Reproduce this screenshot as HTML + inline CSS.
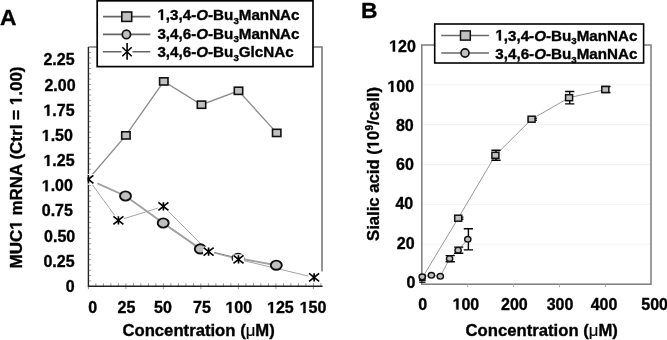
<!DOCTYPE html>
<html><head><meta charset="utf-8"><style>
html,body{margin:0;padding:0;background:#fff;}
body{width:667px;height:340px;overflow:hidden;}
svg{display:block;font-family:"Liberation Sans", sans-serif;font-weight:bold;filter:grayscale(1);}
text{stroke:#000;stroke-width:0.35px;}
.o1{fill-opacity:0;stroke-opacity:0;}
</style></head><body>
<svg width="667" height="340" viewBox="0 0 667 340">
<defs>
<clipPath id="clipA"><rect x="87.4" y="0" width="243.6" height="286.2"/></clipPath>
</defs>
<rect width="667" height="340" fill="#fff"/>

<text x="0.1" y="24.7" font-size="22.8">A</text>
<text x="361.1" y="17.9" font-size="22.8">B</text>
<path d="M88.4 47.0H322.0V271.5" fill="none" stroke="#7a7a7a" stroke-width="1.6"/>
<path d="M88.4 280.89h2.8M88.4 275.58h2.8M88.4 270.27h2.8M88.4 264.96h2.8M88.4 259.65h2.8M88.4 254.34h2.8M88.4 249.03h2.8M88.4 243.72h2.8M88.4 238.41h2.8M88.4 233.10h2.8M88.4 227.79h2.8M88.4 222.48h2.8M88.4 217.17h2.8M88.4 211.86h2.8M88.4 206.55h2.8M88.4 201.24h2.8M88.4 195.93h2.8M88.4 190.62h2.8M88.4 185.31h2.8M88.4 180.00h2.8M88.4 174.69h2.8M88.4 169.38h2.8M88.4 164.07h2.8M88.4 158.76h2.8M88.4 153.45h2.8M88.4 148.14h2.8M88.4 142.83h2.8M88.4 137.52h2.8M88.4 132.21h2.8M88.4 126.90h2.8M88.4 121.59h2.8M88.4 116.28h2.8M88.4 110.97h2.8M88.4 105.66h2.8M88.4 100.35h2.8M88.4 95.04h2.8M88.4 89.73h2.8M88.4 84.42h2.8M88.4 79.11h2.8M88.4 73.80h2.8M88.4 68.49h2.8M88.4 63.18h2.8M88.4 57.87h2.8M88.4 52.56h2.8M88.4 47.25h2.8" stroke="#aaa" stroke-width="1"/>
<path d="M95.90 283.2v3M103.40 283.2v3M110.90 283.2v3M118.40 283.2v3M125.90 283.2v6M133.40 283.2v3M140.90 283.2v3M148.40 283.2v3M155.90 283.2v3M163.40 283.2v6M170.90 283.2v3M178.40 283.2v3M185.90 283.2v3M193.40 283.2v3M200.90 283.2v6M208.40 283.2v3M215.90 283.2v3M223.40 283.2v3M230.90 283.2v3M238.40 283.2v6M245.90 283.2v3M253.40 283.2v3M260.90 283.2v3M268.40 283.2v3M275.90 283.2v6M283.40 283.2v3M290.90 283.2v3M298.40 283.2v3M305.90 283.2v3M313.40 283.2v6M320.90 283.2v3M88.4 286.2v3" stroke="#999" stroke-width="1"/>
<path d="M88.4 47.0V286.2H322.6" fill="none" stroke="#222" stroke-width="1.4"/>
<text x="74.6" y="291.8" font-size="16" text-anchor="end">0</text>
<text x="74.6" y="266.7" font-size="16" text-anchor="end">0.25</text>
<text x="75.2" y="241.5" font-size="16" text-anchor="end">0.50</text>
<text x="72.9" y="216.3" font-size="16" text-anchor="end">0.75</text>
<text x="72.9" y="191.2" font-size="16" text-anchor="end"><tspan class="o1">1</tspan>.00</text>
<text x="74.6" y="166.0" font-size="16" text-anchor="end"><tspan class="o1">1</tspan>.25</text>
<text x="72.9" y="140.9" font-size="16" text-anchor="end"><tspan class="o1">1</tspan>.50</text>
<text x="74.6" y="115.8" font-size="16" text-anchor="end"><tspan class="o1">1</tspan>.75</text>
<text x="75.6" y="90.6" font-size="16" text-anchor="end">2.00</text>
<text x="74.6" y="65.4" font-size="16" text-anchor="end">2.25</text>
<text x="92.6" y="313" font-size="16" text-anchor="middle">0</text>
<text x="126.4" y="313" font-size="16" text-anchor="middle">25</text>
<text x="163.0" y="313" font-size="16" text-anchor="middle">50</text>
<text x="202.0" y="313" font-size="16" text-anchor="middle">75</text>
<text x="238.8" y="313" font-size="16" text-anchor="middle"><tspan class="o1">1</tspan>00</text>
<text x="280.4" y="313" font-size="16" text-anchor="middle"><tspan class="o1">1</tspan>25</text>
<text x="313.0" y="313" font-size="16" text-anchor="middle"><tspan class="o1">1</tspan>50</text>
<text x="198.6" y="336.3" font-size="16.7" text-anchor="middle">Concentration (<tspan font-weight="normal" style="stroke-width:0.2px">μ</tspan>M)</text>
<text transform="translate(21.7 167.5) rotate(-90)" font-size="17" text-anchor="middle">MUC<tspan class="o1">1</tspan> mRNA (Ctrl = <tspan class="o1">1</tspan>.00)</text>
<g clip-path="url(#clipA)">
<path d="M88.4 179.3L125.9 135.4L163.8 81.4L201.5 104.7L238.5 90.8L276.7 132.9" fill="none" stroke="#8c8c8c" stroke-width="1.35"/>
<path d="M88.4 179.3L125.5 196.0L163.2 223.0L200.3 248.9M238.0 258.2L276.3 265.2" fill="none" stroke="#a0a0a0" stroke-width="1.9"/>
<path d="M200.3 248.9L238.0 258.2" fill="none" stroke="#777" stroke-width="1"/>
<path d="M88.4 179.3L118.4 220.4L163.4 206.4L208.6 251.6L238.5 259.4L314.1 277.4" fill="none" stroke="#9a9a9a" stroke-width="0.9"/>
<rect x="121.7" y="131.8" width="8.4" height="7.2" fill="#c0c0c0" stroke="#111" stroke-width="1.6"/>
<rect x="159.6" y="77.8" width="8.4" height="7.2" fill="#c0c0c0" stroke="#111" stroke-width="1.6"/>
<rect x="197.3" y="101.1" width="8.4" height="7.2" fill="#c0c0c0" stroke="#111" stroke-width="1.6"/>
<rect x="234.3" y="87.2" width="8.4" height="7.2" fill="#c0c0c0" stroke="#111" stroke-width="1.6"/>
<rect x="272.5" y="129.3" width="8.4" height="7.2" fill="#c0c0c0" stroke="#111" stroke-width="1.6"/>
<ellipse cx="125.5" cy="196.0" rx="5.5" ry="4.6" fill="#c0c0c0" stroke="#111" stroke-width="1.9"/>
<ellipse cx="163.2" cy="223.0" rx="5.5" ry="4.6" fill="#c0c0c0" stroke="#111" stroke-width="1.9"/>
<ellipse cx="200.3" cy="248.9" rx="5.5" ry="4.6" fill="#c0c0c0" stroke="#111" stroke-width="1.9"/>
<ellipse cx="238.0" cy="258.2" rx="5.5" ry="4.6" fill="#c0c0c0" stroke="#111" stroke-width="1.9"/>
<ellipse cx="276.3" cy="265.2" rx="5.5" ry="4.6" fill="#c0c0c0" stroke="#111" stroke-width="1.9"/>
<path d="M87.4 174.1H93.8L97.4 180.3V184.8H87.4Z" fill="#fff"/>
<path d="M83.4 175.3L93.4 183.3M93.4 175.3L83.4 183.3M88.4 175.1V183.5" stroke="#000" stroke-width="1.65"/>
<rect x="112.8" y="215.4" width="11.2" height="10" fill="#fff"/>
<path d="M113.4 216.4L123.4 224.4M123.4 216.4L113.4 224.4M118.4 216.2V224.6" stroke="#000" stroke-width="1.65"/>
<rect x="157.8" y="201.4" width="11.2" height="10" fill="#fff"/>
<path d="M158.4 202.4L168.4 210.4M168.4 202.4L158.4 210.4M163.4 202.2V210.6" stroke="#000" stroke-width="1.65"/>
<rect x="203.0" y="246.6" width="11.2" height="10" fill="#fff"/>
<path d="M203.6 247.6L213.6 255.6M213.6 247.6L203.6 255.6M208.6 247.4V255.8" stroke="#000" stroke-width="1.65"/>
<rect x="232.9" y="254.4" width="11.2" height="10" fill="#fff"/>
<path d="M233.5 255.4L243.5 263.4M243.5 255.4L233.5 263.4M238.5 255.2V263.6" stroke="#000" stroke-width="1.65"/>
<rect x="308.5" y="272.4" width="11.2" height="10" fill="#fff"/>
<path d="M309.1 273.4L319.1 281.4M319.1 273.4L309.1 281.4M314.1 273.2V281.6" stroke="#000" stroke-width="1.65"/>
</g>
<rect x="97.2" y="0.8" width="215.8" height="65.8" fill="#fff" stroke="#000" stroke-width="1.7"/>
<path d="M103 16.6H150.3M103 34.4H150.3M103 51.8H121.5M132.5 51.8H150.3" stroke="#666" stroke-width="1.6"/>
<rect x="121.8" y="12" width="9.9" height="9.4" fill="#c0c0c0" stroke="#111" stroke-width="1.6"/>
<ellipse cx="126.4" cy="34.4" rx="4.1" ry="4.3" fill="#c0c0c0" stroke="#111" stroke-width="1.7"/>
<path d="M122.3 47.2L131.7 56.3M131.7 47.2L122.3 56.3M127.1 43V59.7" stroke="#000" stroke-width="1.6"/>
<text x="157.4" y="19.9" font-size="15.2"><tspan class="o1">1</tspan>,3,4-<tspan font-style="italic">O</tspan>-Bu<tspan font-size="9.7" dy="3.9">3</tspan><tspan dy="-3.9">ManNAc</tspan></text>
<text x="157.4" y="38.5" font-size="15.2">3,4,6-<tspan font-style="italic">O</tspan>-Bu<tspan font-size="9.7" dy="3.9">3</tspan><tspan dy="-3.9">ManNAc</tspan></text>
<text x="157.4" y="56.8" font-size="15.2">3,4,6-<tspan font-style="italic">O</tspan>-Bu<tspan font-size="9.7" dy="3.9">3</tspan><tspan dy="-3.9">GlcNAc</tspan></text>
<path d="M421.8 244.3H651.0M421.8 204.4H651.0M421.8 164.5H651.0M421.8 124.6H651.0M421.8 84.7H651.0" stroke="#f4f4f4" stroke-width="1"/>
<rect x="421.8" y="45.0" width="229.2" height="239.2" fill="none" stroke="#7c7c7c" stroke-width="1.5"/>
<path d="M467.7 284.2v3M513.6 284.2v3M559.5 284.2v3M605.4 284.2v3" stroke="#aaa" stroke-width="1"/>
<text x="415.5" y="287.9" font-size="16" text-anchor="end">0</text>
<text x="414.6" y="248.8" font-size="16" text-anchor="end">20</text>
<text x="413.2" y="208.8" font-size="16" text-anchor="end">40</text>
<text x="413.8" y="170.2" font-size="16" text-anchor="end">60</text>
<text x="413.7" y="130.6" font-size="16" text-anchor="end">80</text>
<text x="414.1" y="91.9" font-size="16" text-anchor="end"><tspan class="o1">1</tspan>00</text>
<text x="415.8" y="51.5" font-size="16" text-anchor="end"><tspan class="o1">1</tspan>20</text>
<text x="422.8" y="309.6" font-size="16" text-anchor="middle">0</text>
<text x="465.9" y="309.6" font-size="16" text-anchor="middle"><tspan class="o1">1</tspan>00</text>
<text x="514.4" y="309.6" font-size="16" text-anchor="middle">200</text>
<text x="560.0" y="309.6" font-size="16" text-anchor="middle">300</text>
<text x="604.0" y="309.6" font-size="16" text-anchor="middle">400</text>
<text x="654.6" y="309.6" font-size="16" text-anchor="middle">500</text>
<text x="541.7" y="336.3" font-size="16.7" text-anchor="middle">Concentration (<tspan font-weight="normal" style="stroke-width:0.2px">μ</tspan>M)</text>
<text transform="translate(378.8 164) rotate(-90)" font-size="16.7" text-anchor="middle">Sialic acid (<tspan class="o1">1</tspan>0<tspan font-size="10" dy="-6">9</tspan><tspan dy="6">/cell)</tspan></text>
<path d="M422.3 277.8L458.2 218.2L495.4 155.3L531.6 119.2L569.1 97.7L605.3 89.5" fill="none" stroke="#999" stroke-width="1"/>
<path d="M422.2 276.8L431.4 275.3L440.3 276.3L449.6 258.7L458.1 250.2L467.8 239.3" fill="none" stroke="#999" stroke-width="1"/>
<rect x="419.8" y="274.8" width="5.2" height="5.6" fill="#c0c0c0" stroke="#111" stroke-width="1.3"/>
<path d="M419.3 282.2H425.4" stroke="#000" stroke-width="1.3"/>
<path d="M458.8 217.1V219.3M454.2 217.1h9.2M454.2 219.3h9.2" stroke="#000" stroke-width="1.4"/>
<rect x="454.7" y="215.2" width="7" height="6" fill="#c0c0c0" stroke="#111" stroke-width="1.5"/>
<path d="M496.0 150.3V160.3M491.4 150.3h9.2M491.4 160.3h9.2" stroke="#000" stroke-width="1.4"/>
<rect x="491.9" y="152.3" width="7" height="6" fill="#c0c0c0" stroke="#111" stroke-width="1.5"/>
<path d="M532.2 118.2V120.2M527.6 118.2h9.2M527.6 120.2h9.2" stroke="#000" stroke-width="1.4"/>
<rect x="528.1" y="116.2" width="7" height="6" fill="#c0c0c0" stroke="#111" stroke-width="1.5"/>
<path d="M569.7 91.5V103.9M565.1 91.5h9.2M565.1 103.9h9.2" stroke="#000" stroke-width="1.4"/>
<rect x="565.6" y="94.7" width="7" height="6" fill="#c0c0c0" stroke="#111" stroke-width="1.5"/>
<path d="M605.9 86.5V92.5M601.3 86.5h9.2M601.3 92.5h9.2" stroke="#000" stroke-width="1.4"/>
<rect x="601.8" y="86.5" width="7" height="6" fill="#c0c0c0" stroke="#111" stroke-width="1.5"/>

<ellipse cx="422.2" cy="276.8" rx="3.15" ry="2.8" fill="#c0c0c0" stroke="#111" stroke-width="1.4"/>

<ellipse cx="431.4" cy="275.3" rx="3.15" ry="2.8" fill="#c0c0c0" stroke="#111" stroke-width="1.4"/>

<ellipse cx="440.3" cy="276.3" rx="3.15" ry="2.8" fill="#c0c0c0" stroke="#111" stroke-width="1.4"/>
<path d="M450.2 255.6V261.8M445.6 255.6h9.2M445.6 261.8h9.2" stroke="#000" stroke-width="1.4"/>
<ellipse cx="449.6" cy="258.7" rx="3.15" ry="2.8" fill="#c0c0c0" stroke="#111" stroke-width="1.4"/>
<path d="M458.7 247.1V253.3M454.1 247.1h9.2M454.1 253.3h9.2" stroke="#000" stroke-width="1.4"/>
<ellipse cx="458.1" cy="250.2" rx="3.15" ry="2.8" fill="#c0c0c0" stroke="#111" stroke-width="1.4"/>
<path d="M468.4 228.7V249.9M463.8 228.7h9.2M463.8 249.9h9.2" stroke="#000" stroke-width="1.4"/>
<ellipse cx="467.8" cy="239.3" rx="3.15" ry="2.8" fill="#c0c0c0" stroke="#111" stroke-width="1.4"/>
<rect x="434.7" y="24" width="208.9" height="39" fill="#fff" stroke="#000" stroke-width="1.6"/>
<path d="M441.2 35.4H488.9M441.2 53H488.9" stroke="#6a6a6a" stroke-width="1.5"/>
<rect x="460.5" y="30.9" width="9.8" height="9.2" fill="#c0c0c0" stroke="#111" stroke-width="1.5"/>
<ellipse cx="465" cy="53" rx="4" ry="4.1" fill="#c0c0c0" stroke="#111" stroke-width="1.6"/>
<text x="495.3" y="40.5" font-size="15.2"><tspan class="o1">1</tspan>,3,4-<tspan font-style="italic">O</tspan>-Bu<tspan font-size="9.7" dy="3.9">3</tspan><tspan dy="-3.9">ManNAc</tspan></text>
<text x="495.3" y="58.9" font-size="15.2">3,4,6-<tspan font-style="italic">O</tspan>-Bu<tspan font-size="9.7" dy="3.9">3</tspan><tspan dy="-3.9">ManNAc</tspan></text>
<g id="ones" fill="#000" stroke="#000" stroke-width="0.35"><path transform="matrix(0.00781 0.00000 0.00000 -0.00781 41.74 191.20)" d="M478 0L478 1170L140 959L140 1180L493 1409L759 1409L759 0Z" vector-effect="non-scaling-stroke"/><path transform="matrix(0.00781 0.00000 0.00000 -0.00781 43.44 166.00)" d="M478 0L478 1170L140 959L140 1180L493 1409L759 1409L759 0Z" vector-effect="non-scaling-stroke"/><path transform="matrix(0.00781 0.00000 0.00000 -0.00781 41.74 140.90)" d="M478 0L478 1170L140 959L140 1180L493 1409L759 1409L759 0Z" vector-effect="non-scaling-stroke"/><path transform="matrix(0.00781 0.00000 0.00000 -0.00781 43.44 115.80)" d="M478 0L478 1170L140 959L140 1180L493 1409L759 1409L759 0Z" vector-effect="non-scaling-stroke"/><path transform="matrix(0.00781 0.00000 0.00000 -0.00781 225.45 313.00)" d="M478 0L478 1170L140 959L140 1180L493 1409L759 1409L759 0Z" vector-effect="non-scaling-stroke"/><path transform="matrix(0.00781 0.00000 0.00000 -0.00781 267.05 313.00)" d="M478 0L478 1170L140 959L140 1180L493 1409L759 1409L759 0Z" vector-effect="non-scaling-stroke"/><path transform="matrix(0.00781 0.00000 0.00000 -0.00781 299.65 313.00)" d="M478 0L478 1170L140 959L140 1180L493 1409L759 1409L759 0Z" vector-effect="non-scaling-stroke"/><path transform="matrix(0.00000 -0.00830 -0.00830 0.00000 21.70 229.80)" d="M478 0L478 1170L140 959L140 1180L493 1409L759 1409L759 0Z" vector-effect="non-scaling-stroke"/><path transform="matrix(0.00000 -0.00830 -0.00830 0.00000 21.70 105.25)" d="M478 0L478 1170L140 959L140 1180L493 1409L759 1409L759 0Z" vector-effect="non-scaling-stroke"/><path transform="matrix(0.00742 0.00000 0.00000 -0.00742 157.40 19.90)" d="M478 0L478 1170L140 959L140 1180L493 1409L759 1409L759 0Z" vector-effect="non-scaling-stroke"/><path transform="matrix(0.00781 0.00000 0.00000 -0.00781 387.40 91.90)" d="M478 0L478 1170L140 959L140 1180L493 1409L759 1409L759 0Z" vector-effect="non-scaling-stroke"/><path transform="matrix(0.00781 0.00000 0.00000 -0.00781 389.10 51.50)" d="M478 0L478 1170L140 959L140 1180L493 1409L759 1409L759 0Z" vector-effect="non-scaling-stroke"/><path transform="matrix(0.00781 0.00000 0.00000 -0.00781 452.55 309.60)" d="M478 0L478 1170L140 959L140 1180L493 1409L759 1409L759 0Z" vector-effect="non-scaling-stroke"/><path transform="matrix(0.00000 -0.00815 -0.00815 0.00000 378.80 149.16)" d="M478 0L478 1170L140 959L140 1180L493 1409L759 1409L759 0Z" vector-effect="non-scaling-stroke"/><path transform="matrix(0.00742 0.00000 0.00000 -0.00742 495.30 40.50)" d="M478 0L478 1170L140 959L140 1180L493 1409L759 1409L759 0Z" vector-effect="non-scaling-stroke"/></g>
</svg></body></html>
